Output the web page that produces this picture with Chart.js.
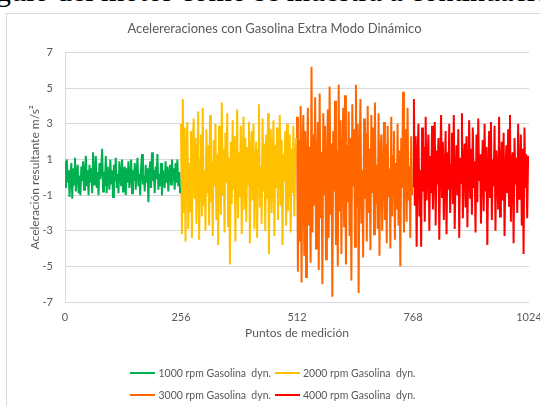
<!DOCTYPE html>
<html><head><meta charset="utf-8">
<script src="https://cdn.jsdelivr.net/npm/chart.js@4"></script>
<style>
html,body{margin:0;padding:0;background:#fff}
body{width:540px;height:406px;overflow:hidden;position:relative;font-family:Lato,sans-serif}
#doc{position:absolute;left:-4px;top:-25px;font-family:'Liberation Serif',serif;font-size:30px;white-space:nowrap;color:#000;line-height:32px}
#frame{position:absolute;left:6px;top:13px;width:540px;height:400px;border-left:1px solid #d9d9d9;border-top:1px solid #d9d9d9;background:#fff}
#wrap{position:absolute;left:0;top:0;width:540px;height:406px}
.row{position:absolute;left:6px;width:534px;display:flex;justify-content:center;align-items:center;font-size:10.5px;color:#595959;white-space:pre;height:14px}
.item{display:flex;align-items:center;margin:0 2px}
.sw{display:inline-block;width:25px;height:2px;margin-right:3px}
</style></head>
<body>
<div id="doc">gulo del motor como se muestra a continuación</div>
<div id="frame"></div>
<div id="wrap"><canvas id="c" width="540" height="406"></canvas></div>
<div id="legend"></div>
<script>
const title = 'Acelereraciones con Gasolina Extra Modo Dinámico';
const xTitle = 'Puntos de medición';
const yTitle = 'Aceleración resultante m/s²';
const xTicks = [0, 256, 512, 768, 1024];
const yTicks = [-7, -5, -3, -1, 1, 3, 5, 7];
const seriesNames = ['1000 rpm Gasolina  dyn.', '2000 rpm Gasolina  dyn.', '3000 rpm Gasolina  dyn.', '4000 rpm Gasolina  dyn.'];
const seriesColors = ['#00B050', '#FFC000', '#FF6600', '#FF0000'];
const seriesStart = [0, 256, 512, 768];
const pointStep = 2;

const rpm1000 = [0.9, -0.6, 1.0, -0.3, 0.4, -1.1, 0.2, 0.8, -1.2, 0.5, -0.4, 1.1, -0.8, 0.3, 0.7, -0.9, 0.1, -1.0, 0.6, -0.2,
0.9, -0.7, 0.2, 1.2, -0.5, 0.4, -1.0, 0.7, -0.3, 0.5, -0.9, 1.4, -0.4, 0.2, 1.2, -0.6, 0.3, -1.0, 0.8, -0.1,
0.5, 1.6, -0.8, 0.3, -0.5, 1.2, -0.9, 0.6, 0.0, -0.7, 1.0, -0.4, 0.4, -1.1, 0.7, -0.2, 1.1, -0.6, 0.2, -0.9,
0.9, 0.1, -0.5, 1.0, -0.8, 0.3, 0.6, -1.0, 0.5, -0.3, 0.9, -0.6, 0.1, 1.0, -0.9, 0.4, -0.2, 0.8, -0.7, 0.3,
1.1, -0.5, 0.2, -1.0, 0.6, 1.3, -0.4, 0.1, -0.8, 0.7, -0.3, 0.5, -1.4, 0.3, 0.9, -0.6, 1.4, -0.2, 0.4, -0.9,
0.6, -0.1, 1.3, -0.7, 0.2, -0.5, 0.8, -1.0, 0.4, 0.0, -0.6, 0.9, -0.3, 0.6, -0.8, 0.2, 0.7, -0.4, 1.0, -0.2,
0.5, -0.7, 0.8, -0.3, 1.0, -0.5, 0.3, -0.9];

const rpm2000 = [3.0, -3.2, 4.4, -2.0, 2.8, -3.6, 1.5, 3.1, -2.9, 0.8, -1.9, 2.6, -3.4, 1.9, 3.3, -1.2, 2.2, -2.6, 0.6, 3.7,
-3.5, 1.0, 2.4, -2.2, 3.9, -1.6, 0.4, -3.0, 2.7, -0.9, 1.8, -2.7, 3.5, -1.4, 0.9, -3.3, 2.1, -0.5, 3.0, -2.4,
1.3, -3.8, 2.9, 0.2, -2.1, 4.2, -1.0, 1.6, -3.1, 2.5, -0.3, 3.6, -2.8, 1.1, -4.9, 2.0, -1.5, 3.2, -0.7, 2.3,
-3.6, 0.5, 3.8, -2.3, 1.4, -1.1, 2.9, -3.2, 0.7, 3.4, -1.8, 2.2, -2.5, 1.7, -0.4, 3.1, -3.7, 1.2, 2.6, -1.3,
3.0, -2.9, 0.3, 2.0, -3.4, 1.5, 4.1, -1.7, 0.6, -2.6, 3.3, -0.8, 1.9, -3.0, 2.4, -1.2, 3.6, -4.3, 1.0, 2.7,
-2.0, 0.4, 3.2, -3.3, 1.8, -0.6, 2.8, -2.4, 0.9, 3.5, -1.6, 2.1, -3.8, 1.3, -0.2, 2.6, -2.7, 3.0, -1.9, 0.8,
2.4, -3.1, 1.6, -0.9, 2.9, -2.2, 1.1, 2.2];

const rpm3000 = [3.4, -5.3, 2.1, -3.6, 4.0, -5.9, 1.2, 3.5, -4.4, 2.6, -5.6, 0.8, 3.9, -2.7, 1.7, -4.8, 6.2, -3.1, 2.4, -1.6,
4.5, -4.0, 0.6, 3.1, -5.2, 4.7, -2.3, 1.4, -6.0, 3.6, -1.0, 2.9, -4.6, 0.3, 3.8, -3.4, 5.1, -2.1, 1.9, -6.7,
2.6, -0.8, 4.3, -3.8, 1.5, -5.0, 5.2, -1.9, 3.2, -4.3, 0.9, 3.9, -2.8, 4.6, -4.9, 1.8, -1.4, 3.7, -3.3, 2.2,
-5.8, 4.1, -0.5, 2.7, -3.9, 5.2, -1.7, 3.0, -6.5, 1.1, 4.4, -2.6, 0.4, -4.5, 3.3, -1.2, 2.5, -3.6, 4.0, -2.0,
1.6, -4.1, 3.5, -0.9, 2.8, -3.2, 4.2, -1.5, 0.7, -2.9, 3.6, -4.4, 1.3, 2.4, -3.0, 0.2, 3.1, -2.4, 1.9, -3.7,
2.9, -1.1, 0.5, -4.0, 3.4, -2.2, 1.2, 2.6, -3.5, 0.8, -1.8, 3.0, -2.7, 1.5, -5.0, 2.2, -0.6, 4.8, -3.1, 1.0,
2.7, -2.5, 3.9, -1.3, 0.6, -3.4, 2.3, -1.0];

const rpm4000 = [-0.5, 4.4, -1.6, 2.3, -3.9, 1.0, 3.0, -2.2, 0.4, -3.9, 2.8, -0.8, 1.7, -2.5, 3.4, -1.3, 0.6, 2.4, -3.0, 1.2,
-0.9, 2.9, -1.8, 0.3, 3.1, -2.7, 1.5, -0.4, 2.2, -3.5, 0.9, 3.5, -1.1, 2.0, -2.4, 0.1, 2.6, -3.2, 1.4, -0.7,
3.0, -2.0, 0.7, 2.5, -1.5, 3.5, -2.9, 0.2, 1.8, -1.0, 2.7, -3.4, 1.1, -0.3, 3.6, -2.3, 0.8, 1.9, -1.7, 2.3,
-2.8, 0.5, 3.2, -1.2, 1.6, -2.1, 2.8, -0.6, 0.9, -3.1, 2.4, -1.4, 3.3, -0.2, 1.3, -2.6, 0.6, 2.1, -1.9, 3.0,
-0.8, 1.7, -3.8, 0.4, 2.6, -1.1, 3.1, -2.4, 1.0, -0.5, 2.9, -3.0, 1.5, 0.2, -1.8, 3.4, -2.2, 0.7, 2.0, -1.3,
2.5, -3.3, 0.3, 1.8, -0.9, 2.7, -1.6, 3.5, -2.5, 0.8, 1.4, -3.7, 2.2, -0.4, 1.1, -2.0, 3.0, -1.2, 0.5, 2.4,
-2.7, 1.6, -4.3, 2.8, -0.6, 1.3, -2.3, 1.2];

const seriesValues = [rpm1000, rpm2000, rpm3000, rpm4000];

const datasets = seriesValues.map((vals, k) => ({
  label: seriesNames[k],
  data: vals.map((v, i) => ({ x: seriesStart[k] + i * pointStep, y: v })),
  borderColor: seriesColors[k],
  backgroundColor: seriesColors[k],
  borderWidth: 2,
  pointRadius: 0,
  tension: 0,
  fill: false
}));

const txt = '#595959';
new Chart(document.getElementById('c'), {
  type: 'line',
  data: { datasets },
  options: {
    responsive: false,
    animation: false,
    layout: { padding: { left: 20, right: 11, top: 0, bottom: 64 } },
    plugins: {
      legend: { display: false },
      tooltip: { enabled: false },
      title: { display: true, text: title, color: txt, font: { family: 'Lato', size: 13, weight: 'normal' }, padding: { top: 21, bottom: 16 } }
    },
    scales: {
      x: {
        type: 'linear', min: xTicks[0], max: xTicks[xTicks.length - 1],
        afterBuildTicks: s => { s.ticks = xTicks.map(v => ({ value: v })); },
        ticks: { color: txt, font: { family: 'Lato', size: 11 }, padding: 9, maxRotation: 0, autoSkip: false, callback: v => String(v) },
        grid: { display: false, drawTicks: false },
        border: { display: false },
        title: { display: true, text: xTitle, color: txt, font: { family: 'Lato', size: 12 }, padding: { top: 0, bottom: 2 } },
        afterFit: s => { s.height = 40; s.paddingLeft = 0; s.paddingRight = 0; }
      },
      y: {
        min: yTicks[0], max: yTicks[yTicks.length - 1],
        afterBuildTicks: s => { s.ticks = yTicks.map(v => ({ value: v })); },
        ticks: { color: txt, font: { family: 'Lato', size: 11 }, padding: 12, callback: v => String(v) },
        grid: { color: '#d9d9d9', drawTicks: false },
        border: { display: true, color: '#d9d9d9' },
        title: { display: true, text: yTitle, color: txt, font: { family: 'Lato', size: 12 }, padding: { top: 8, bottom: 0 } },
        afterFit: s => { s.width = 45; s.paddingTop = 0; s.paddingBottom = 0; }
      }
    }
  }
});

const legend = document.getElementById('legend');
[[0, 1, 366], [2, 3, 388]].forEach(([a, b, top]) => {
  const row = document.createElement('div');
  row.className = 'row';
  row.style.top = top + 'px';
  [a, b].forEach(k => {
    const it = document.createElement('span');
    it.className = 'item';
    const sw = document.createElement('span');
    sw.className = 'sw';
    sw.style.background = seriesColors[k];
    const t = document.createElement('span');
    t.textContent = seriesNames[k];
    it.appendChild(sw); it.appendChild(t);
    row.appendChild(it);
  });
  legend.appendChild(row);
});
</script>
</body></html>
